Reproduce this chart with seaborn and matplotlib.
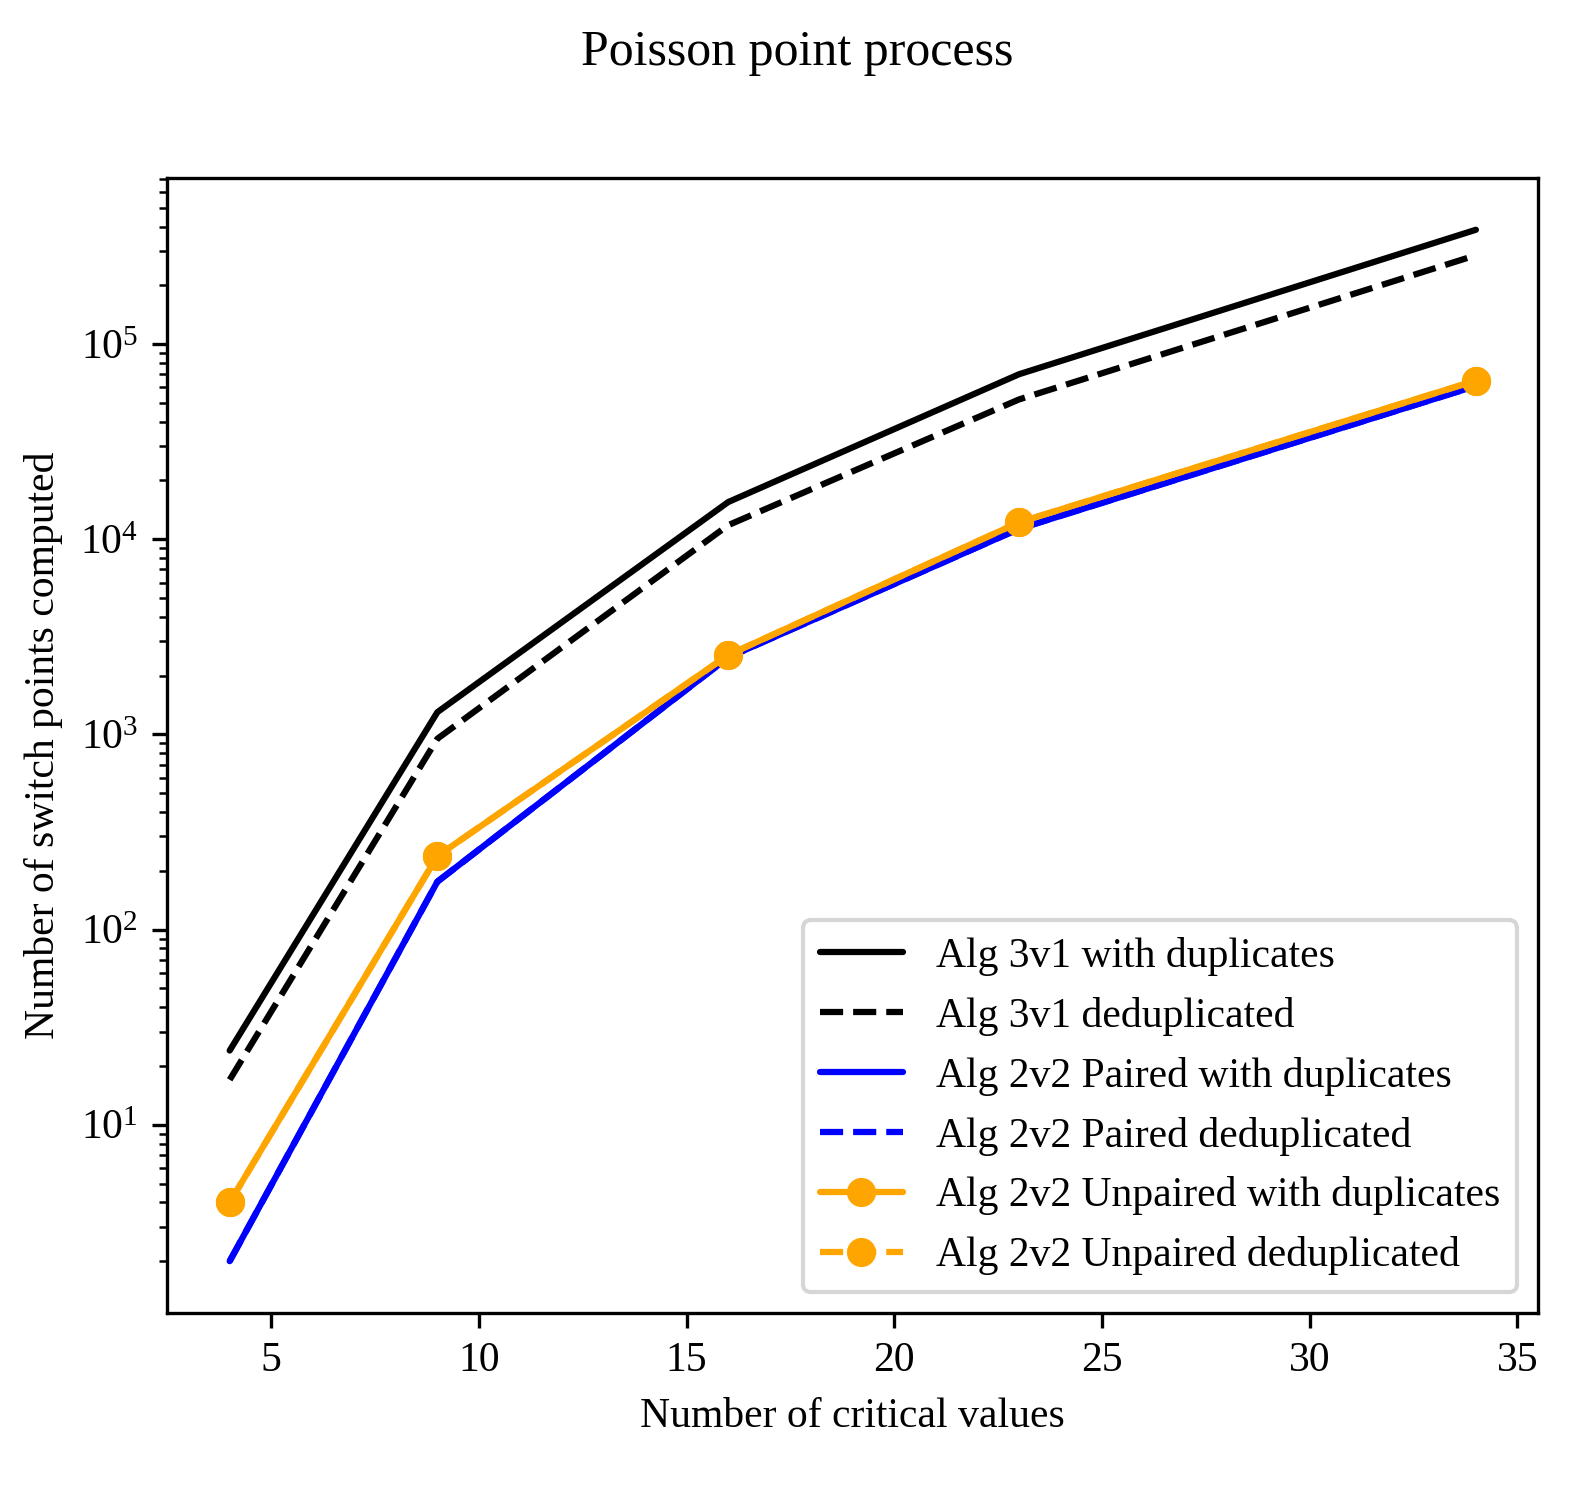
import matplotlib
matplotlib.use('Agg')
import matplotlib.pyplot as plt
import seaborn as sns

# === DATA ===
CRITICAL_VALUES = [4, 9, 16, 23, 34]
ALG3V1_DUP = [24, 1300, 15500, 70000, 385000]
ALG3V1_DEDUP = [17, 950, 11800, 52000, 285000]
ALG2V2_PAIRED_DUP = [2, 176, 2480, 11300, 61000]
ALG2V2_PAIRED_DEDUP = [2, 176, 2480, 11300, 61000]
ALG2V2_UNPAIRED_DUP = [4, 238, 2550, 12200, 65000]
ALG2V2_UNPAIRED_DEDUP = [4, 238, 2550, 12200, 65000]

SERIES = [
    ('Alg 3v1 with duplicates', ALG3V1_DUP, 'black', '-', None),
    ('Alg 3v1 deduplicated', ALG3V1_DEDUP, 'black', '--', None),
    ('Alg 2v2 Paired with duplicates', ALG2V2_PAIRED_DUP, 'blue', '-', None),
    ('Alg 2v2 Paired deduplicated', ALG2V2_PAIRED_DEDUP, 'blue', '--', None),
    ('Alg 2v2 Unpaired with duplicates', ALG2V2_UNPAIRED_DUP, 'orange', '-', 'o'),
    ('Alg 2v2 Unpaired deduplicated', ALG2V2_UNPAIRED_DEDUP, 'orange', '--', 'o'),
]

sns.set_style('ticks', {
    'text.color': 'black', 'axes.labelcolor': 'black',
    'xtick.color': 'black', 'ytick.color': 'black',
    'axes.edgecolor': 'black',
})
plt.rcParams['font.family'] = ['Liberation Serif', 'DejaVu Serif']
plt.rcParams['mathtext.fontset'] = 'stix'
plt.rcParams['font.size'] = 10

fig, ax = plt.subplots(figsize=(1594 / 300, 1485 / 300), dpi=300)
for label, vals, color, ls, marker in SERIES:
    sns.lineplot(x=CRITICAL_VALUES, y=vals, ax=ax, color=color, linestyle=ls,
                 marker=marker, markersize=7, markeredgewidth=0,
                 linewidth=1.5, label=label)

ax.set_yscale('log')
ax.set_xticks([5, 10, 15, 20, 25, 30, 35])
ax.set_xlabel('Number of critical values')
ax.set_ylabel('Number of switch points computed')
ax.legend(loc='lower right')
fig.suptitle('Poisson point process', fontsize=12)
fig.subplots_adjust(left=0.105, right=0.965, top=0.88, bottom=0.116)
fig.savefig('out.png', dpi=300)
